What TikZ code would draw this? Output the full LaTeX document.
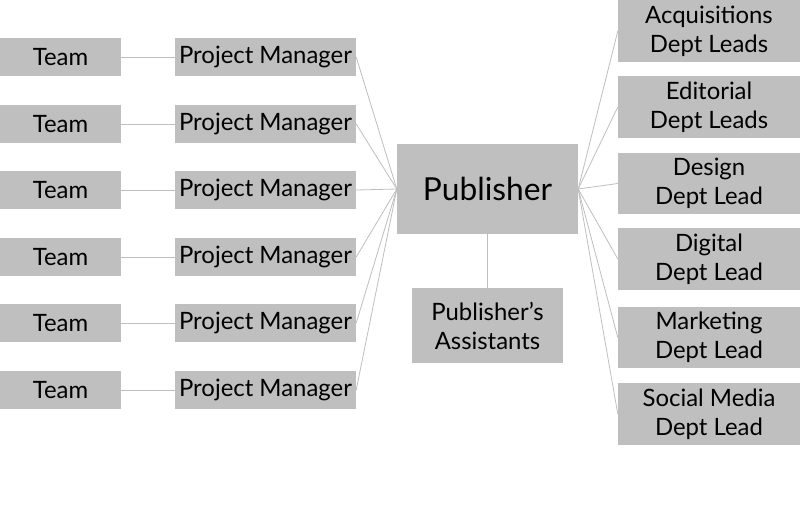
\documentclass[tikz,border=0pt]{standalone}
\usepackage{fontspec}
\setmainfont{Lato}
\definecolor{boxgray}{RGB}{191,191,191}
\definecolor{linegray}{RGB}{190,190,190}
\begin{document}
\begin{tikzpicture}[x=1pt,y=-1pt,
  box/.style={rectangle,fill=boxgray,inner sep=0pt,align=center,text=black,
    font=\fontsize{23.9}{29}\selectfont},
  teambox/.style={box,minimum width=121pt,minimum height=38pt},
  pmbox/.style={box,minimum width=181pt,minimum height=38pt},
  deptbox/.style={box,minimum width=182pt,minimum height=62pt},
  conn/.style={draw=linegray,line width=0.8pt}]
\useasboundingbox (0,0) rectangle (800,515);
\node[box,minimum width=181pt,minimum height=90pt,font=\fontsize{31.7}{36}\selectfont] (pub) at (487.5,189) {Publisher};
\node[box,minimum width=151pt,minimum height=75pt] (asst) at (487.5,325.5) {Publisher’s\\Assistants};
\foreach \i/\y in {1/57,2/124,3/190,4/257,5/323,6/390}{
  \node[teambox] (team\i) at (60.5,\y) {Team};
  \node[pmbox] (pm\i) at (265.5,\y) {Project Manager};
}
\node[deptbox] (acq) at (709,31) {Acquisitions\\Dept Leads};
\node[deptbox] (edi) at (709,107) {Editorial\\Dept Leads};
\node[deptbox,minimum height=61pt] (des) at (709,183.5) {Design\\Dept Lead};
\node[deptbox] (dig) at (709,259) {Digital\\Dept Lead};
\node[deptbox,minimum height=61pt] (mar) at (709,337.5) {Marketing\\Dept Lead};
\node[deptbox] (soc) at (709,414) {Social Media\\Dept Lead};
\foreach \i in {1,...,6}{
  \draw[conn] (team\i.east) -- (pm\i.west);
  \draw[conn] (pm\i.east) -- (pub.west);
}
\foreach \n in {acq,edi,des,dig,mar,soc}{
  \draw[conn] (pub.east) -- (\n.west);
}
\draw[conn] (pub.south) -- (asst.north);
\end{tikzpicture}
\end{document}
